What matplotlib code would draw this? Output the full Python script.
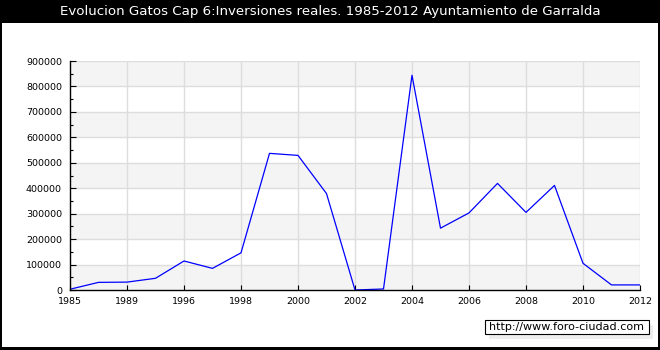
import numpy as np
import matplotlib
matplotlib.use("Agg")
import matplotlib.pyplot as plt
from matplotlib.patches import Rectangle

# datos
years = ["1985", "1987", "1989", "1995", "1996", "1997", "1998", "1999", "2000", "2001", "2002",
         "2003", "2004", "2005", "2006", "2007", "2008", "2009", "2010", "2011", "2012"]
values = [3000, 30000, 31000, 46000, 114000, 85000, 146000, 537000, 529000, 379000, 0,
          4000, 844000, 243000, 303000, 419000, 305000, 411000, 105000, 20000, 20000]
yticks = list(range(0, 900001, 100000))
title = "Evolucion Gatos Cap 6:Inversiones reales. 1985-2012 Ayuntamiento de Garralda"
W, H = 660, 350

fig = plt.figure(figsize=(W / 100, H / 100), dpi=100, facecolor="black")
# panel blanco interior
fig.patches.append(Rectangle((2 / W, 3 / H), 656 / W, (347 - 23) / H,
                             transform=fig.transFigure, facecolor="white",
                             edgecolor="none", zorder=-1))
fig.text(0.5, 1 - 12 / H, title, color="white", ha="center", va="center",
         fontsize=9.6, family="DejaVu Sans")

ax = fig.add_axes([70 / W, 60 / H, 570 / W, 229 / H])
x = np.arange(len(years))
ax.set_xlim(0, len(years) - 1)
ax.set_ylim(0, 900000)

# bandas alternas
for i, v in enumerate(yticks[:-1]):
    if i % 2 == 0:
        ax.axhspan(v, v + 100000, color="#f4f4f4", lw=0, zorder=0)
for v in yticks[1:]:
    ax.axhline(v, color="#dddddd", lw=1, zorder=1)
for i in x[::2][1:]:
    ax.axvline(i, color="#dddddd", lw=1, zorder=1)

ax.plot(x, values, color="#0000ff", lw=0.9, zorder=3)

ax.set_xticks(x[::2])
ax.set_xticklabels(years[::2])
ax.set_yticks(yticks)
ax.set_yticklabels([str(v) for v in yticks])
ax.set_yticks(np.arange(50000, 900000, 100000), minor=True)
ax.tick_params(axis="both", direction="in", labelsize=6.8, colors="black", width=0.8)
ax.tick_params(axis="y", length=4.3, pad=5.8)
ax.tick_params(axis="y", which="minor", length=2.2, width=0.8, direction="in")
ax.tick_params(axis="x", length=3.6, pad=5)
for s in ["top", "right"]:
    ax.spines[s].set_visible(False)
for s in ["left", "bottom"]:
    ax.spines[s].set_linewidth(1)
    ax.spines[s].set_zorder(4)
ax.set_facecolor("white")

# marca de agua
fig.patches.append(Rectangle((489 / W, 1 - 339 / H), 164 / W, 14 / H,
                             transform=fig.transFigure, facecolor="#eeeeee",
                             edgecolor="none", zorder=1))
fig.patches.append(Rectangle((485 / W, 1 - 334 / H), 164 / W, 14 / H,
                             transform=fig.transFigure, facecolor="white",
                             edgecolor="black", lw=0.8, zorder=2))
fig.text(567 / W, 1 - 327 / H, "http://www.foro-ciudad.com", ha="center", va="center",
         fontsize=8.0, color="black", zorder=3)

fig.savefig("out.png", dpi=100, facecolor="black")
